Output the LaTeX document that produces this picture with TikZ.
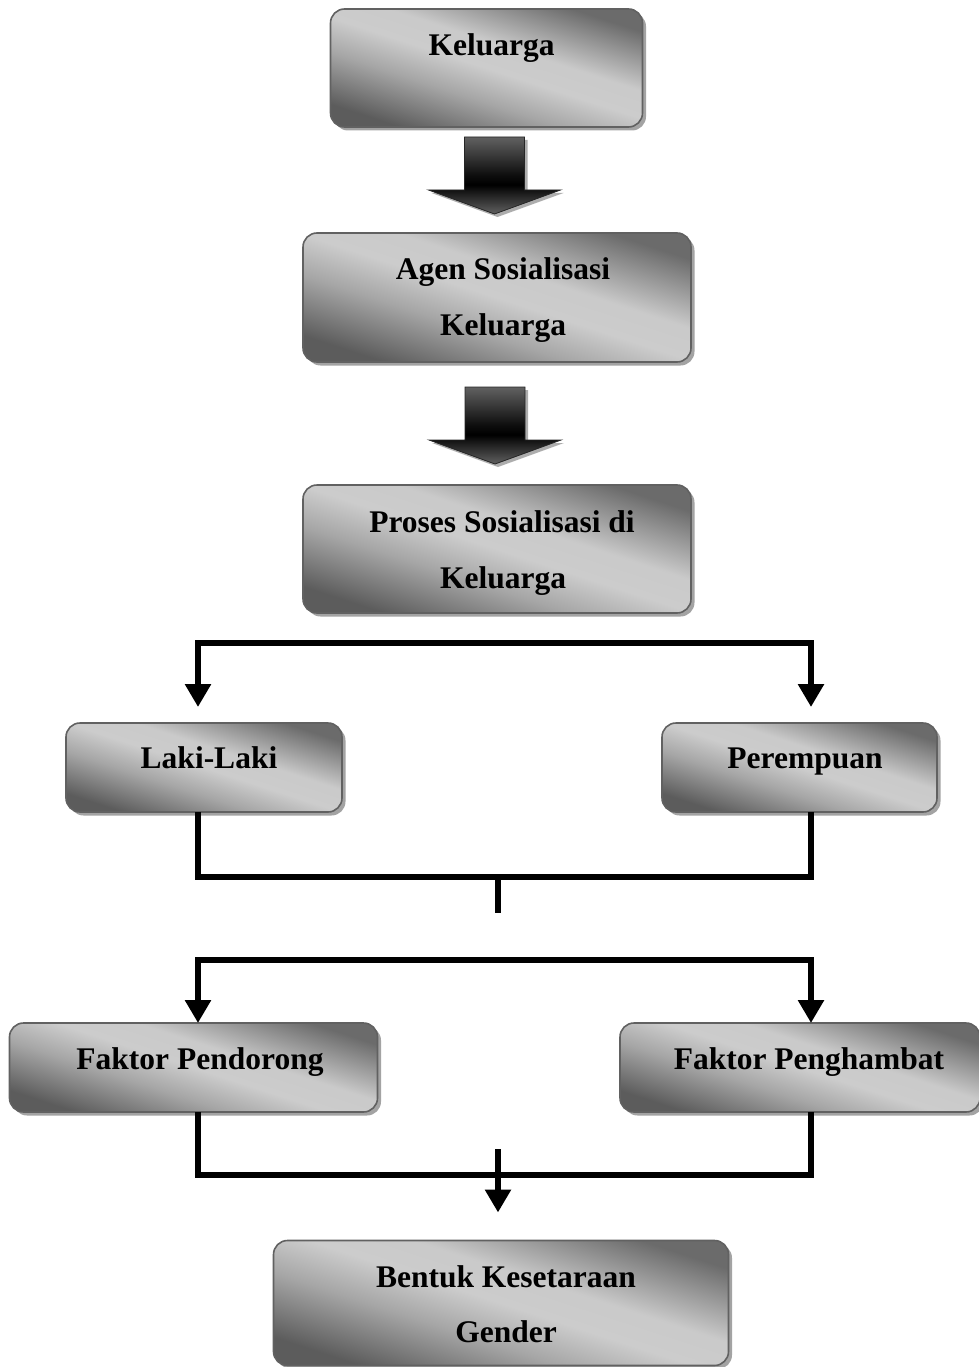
\documentclass[tikz,border=0pt]{standalone}
\usepackage{fontspec}
\setmainfont{Liberation Serif}
\usetikzlibrary{shadows,arrows.meta,calc}
\pgfdeclarehorizontalshading{boxsh}{100bp}{color(0bp)=(black!64); color(25bp)=(black!64); color(40bp)=(black!35); color(50bp)=(black!20); color(58bp)=(black!21); color(75bp)=(black!58); color(100bp)=(black!58)}
\pgfdeclareverticalshading{arrsh}{100bp}{color(0bp)=(black!62); color(25bp)=(black!62); color(44bp)=(black); color(50bp)=(black!95); color(75bp)=(black!62); color(100bp)=(black!62)}
\begin{document}
\begin{tikzpicture}[x=1pt,y=-1pt,
  box/.style={draw=black!62, line width=1.6pt, rounded corners=14pt, shade, shading=boxsh, shading angle=72,
    drop shadow={shadow xshift=3.5pt, shadow yshift=-3.5pt, fill=black!45, opacity=0.8},
    inner sep=0pt, outer sep=0pt},
  lbl/.style={font=\bfseries\fontsize{31.5}{56}\selectfont, inner sep=0pt, anchor=base},
  blk/.style={draw=black!85, line width=0.8pt, shade, shading=arrsh,
    drop shadow={shadow xshift=3pt, shadow yshift=-3pt, fill=black!40, opacity=0.8}},
  conn/.style={line width=6.5pt, line join=miter},
  tip/.style={-{Triangle[width=25pt,length=23pt]}},
  tips/.style={{Triangle[width=25pt,length=23pt]}-{Triangle[width=25pt,length=23pt]}}
]
\useasboundingbox (0,0) rectangle (978,1367);
% connector coordinates
\coordinate (h1L) at (198,643); \coordinate (h1R) at (811,643);
\coordinate (j1L) at (198,877); \coordinate (j1R) at (811,877);
\coordinate (s1) at (498,877); \coordinate (s1e) at (498,913);
\coordinate (h2L) at (198,960); \coordinate (h2R) at (811,960);
\coordinate (j2L) at (198,1175); \coordinate (j2R) at (811,1175);
\coordinate (s2) at (498,1149);
% boxes
\node[box, minimum width=312pt, minimum height=118pt] (b1) at (486.5,68) {};
\node[box, minimum width=388pt, minimum height=129pt] (b2) at (497,297.5) {};
\node[box, minimum width=388pt, minimum height=128pt] (b3) at (497,549) {};
\node[box, minimum width=276pt, minimum height=89pt] (lk) at (204,767.5) {};
\node[box, minimum width=275pt, minimum height=89pt] (pr) at (799.5,767.5) {};
\node[box, minimum width=368pt, minimum height=89pt] (fp) at (193.5,1067.5) {};
\node[box, minimum width=360pt, minimum height=89pt] (fh) at (800,1067.5) {};
\node[box, minimum width=455pt, minimum height=125pt] (bk) at (501,1303) {};
% labels
\node[lbl] (t1) at (491.5,56) {Keluarga};
\node[lbl] (t2a) at (503,279) {Agen Sosialisasi};
\node[lbl] (t2b) at (503,335) {Keluarga};
\node[lbl] (t3a) at (502,532) {Proses Sosialisasi di};
\node[lbl] (t3b) at (503,588) {Keluarga};
\node[lbl] (t4) at (209,768) {Laki-Laki};
\node[lbl] (t5) at (805,768) {Perempuan};
\node[lbl] (t6) at (200,1069) {Faktor Pendorong};
\node[lbl] (t7) at (809,1069) {Faktor Penghambat};
\node[lbl] (t8a) at (506,1287) {Bentuk Kesetaraan};
\node[lbl] (t8b) at (506,1342) {Gender};
% block arrows
\coordinate (a1) at ($(b1.south)+(8,10)$);
\coordinate (a2) at ($(b2.south)+(-2,25)$);
\foreach \a in {a1,a2}{
  \begin{scope}[shift={(\a)}]
    \path[blk] (-30,0) -- (30,0) -- (30,53) -- (66,53) -- (0,77) -- (-66,53) -- (-30,53) -- cycle;
  \end{scope}
}
% brackets
\draw[conn,tips] ($(h1L |- lk.north)+(0,-16)$) -- (h1L) -- (h1R) -- ($(h1R |- pr.north)+(0,-16)$);
\draw[conn] (h1L |- lk.south) -- (j1L) -- (j1R) -- (h1R |- pr.south);
\draw[conn] (s1) -- (s1e);
\draw[conn,tips] (h2L |- fp.north) -- (h2L) -- (h2R) -- (h2R |- fh.north);
\draw[conn] (h2L |- fp.south) -- (j2L) -- (j2R) -- (h2R |- fh.south);
\draw[conn,tip] (s2) -- ($(s2 |- bk.north)+(0,-28)$);
\end{tikzpicture}
\end{document}
